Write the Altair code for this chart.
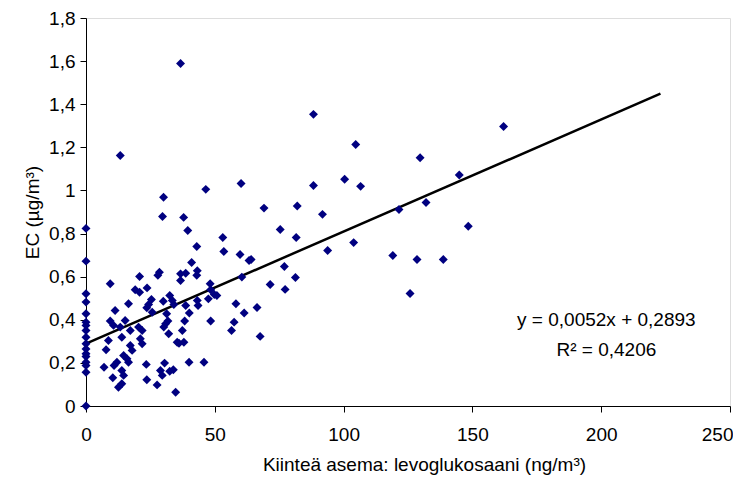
import altair as alt
import pandas as pd

# Scatter data (levoglucosan ng/m3 vs EC ug/m3)
x_zero_y = [0.824, 0.672, 0.521, 0.482, 0.428, 0.389, 0.374, 0.350, 0.319, 0.289,
            0.265, 0.242, 0.230, 0.203, 0.188, 0.157, 0.0]

xs = [36.7, 13.3, 88.3, 162.1, 104.7, 129.7, 100.4, 88.3, 106.6, 144.9,
      69.1, 82.0, 91.8, 121.5, 132.0, 75.4, 81.6, 64.1, 93.8, 103.9,
      148.4, 77.0, 71.5, 77.3, 81.3, 119.1, 128.5, 138.7, 125.8, 66.4,
      67.6, 30.1, 29.7, 37.9, 39.5, 46.5, 53.1, 60.2, 43.0, 53.5,
      59.8, 63.3, 41.0, 43.2, 28.5, 27.9, 20.8, 36.7, 38.7, 43.0,
      36.7, 9.4, 60.5, 19.1, 20.8, 23.7, 48.2, 48.4, 32.5, 25.4,
      24.3, 30.0, 16.5, 23.6, 33.5, 34.1, 38.7, 40.1, 43.2, 43.5,
      47.5, 50.8, 58.2, 61.4, 11.3, 25.7, 31.3, 31.8, 38.3, 48.4,
      57.5, 9.4, 10.7, 15.2, 13.3, 20.4, 21.8, 17.2, 30.2, 37.4,
      32.1, 56.5, 8.7, 13.9, 21.1, 21.8, 35.4, 38.0, 7.8, 17.2,
      14.6, 17.9, 15.9, 12.0, 16.5, 7.0, 10.9, 23.4, 30.5, 40.0,
      45.8, 13.9, 14.6, 10.4, 28.9, 32.5, 33.9, 29.6, 23.6, 27.6,
      13.9, 12.6, 34.8, 49.8, 30.9, 36.1]
ys = [1.589, 1.162, 1.353, 1.297, 1.213, 1.152, 1.052, 1.023, 1.019, 1.072,
      0.918, 0.928, 0.889, 0.912, 0.944, 0.819, 0.782, 0.680, 0.721, 0.758,
      0.834, 0.647, 0.564, 0.541, 0.596, 0.698, 0.680, 0.680, 0.522, 0.457,
      0.323, 0.968, 0.879, 0.875, 0.814, 1.005, 0.782, 1.032, 0.740, 0.717,
      0.703, 0.675, 0.666, 0.628, 0.621, 0.606, 0.601, 0.613, 0.616, 0.606,
      0.582, 0.567, 0.598, 0.539, 0.528, 0.548, 0.567, 0.539, 0.513, 0.494,
      0.471, 0.486, 0.474, 0.456, 0.490, 0.471, 0.466, 0.431, 0.490, 0.466,
      0.497, 0.513, 0.474, 0.431, 0.443, 0.435, 0.428, 0.394, 0.394, 0.394,
      0.389, 0.394, 0.374, 0.397, 0.366, 0.366, 0.350, 0.350, 0.366, 0.350,
      0.335, 0.350, 0.304, 0.319, 0.312, 0.289, 0.296, 0.296, 0.261, 0.281,
      0.234, 0.258, 0.219, 0.203, 0.203, 0.180, 0.188, 0.193, 0.199, 0.203,
      0.203, 0.165, 0.142, 0.131, 0.165, 0.161, 0.168, 0.142, 0.122, 0.098,
      0.103, 0.087, 0.064, 0.517, 0.381, 0.291]

all_x = [0.0] * len(x_zero_y) + xs
all_y = x_zero_y + ys

# Trend line y = 0.0052x + 0.2893
slope = 0.0052
intercept = 0.2893
line_x = [0.0, 223.0]
line_y = [intercept + slope * v for v in line_x]

eq_lines = ["y = 0,0052x + 0,2893", "R² = 0,4206"]
eq_x = [202.0, 202.0]
eq_y = [0.397, 0.258]

pts = pd.DataFrame({"x": all_x, "y": all_y})
trend = pd.DataFrame({"x": line_x, "y": line_y})
labels = pd.DataFrame({"x": eq_x, "y": eq_y, "t": eq_lines})

FONT = "Liberation Sans"
FS = 19
comma = "replace(format(datum.value, '.1~f'), '.', ',')"

xscale = alt.Scale(domain=[0, 250], nice=False, zero=True)
yscale = alt.Scale(domain=[0, 1.8], nice=False, zero=True)

xaxis = alt.Axis(values=[0, 50, 100, 150, 200, 250], title="Kiinteä asema: levoglukosaani (ng/m³)",
                 grid=False, domainColor="black", tickColor="black", tickSize=6,
                 labelAlign={"condition": {"test": "datum.value == 250", "value": "right"}, "value": "center"},
                 labelOffset={"condition": {"test": "datum.value == 250", "value": 3}, "value": 0},
                 labelFont=FONT, labelFontSize=FS, labelColor="black", labelPadding=13,
                 titleFont=FONT, titleFontSize=FS, titleFontWeight="normal", titleColor="black",
                 titlePadding=11, titleX=338)
yaxis = alt.Axis(values=[0, 0.2, 0.4, 0.6, 0.8, 1.0, 1.2, 1.4, 1.6, 1.8], title="EC (µg/m³)",
                 grid=False, domainColor="black", tickColor="black", tickSize=6,
                 labelExpr=comma,
                 labelFont=FONT, labelFontSize=FS, labelColor="black", labelPadding=5,
                 titleFont=FONT, titleFontSize=FS, titleFontWeight="normal", titleColor="black",
                 titlePadding=6)

points = alt.Chart(pts).mark_point(shape="diamond", filled=True, size=80,
                                     color="#000080", opacity=1).encode(
    x=alt.X("x:Q", scale=xscale, axis=xaxis),
    y=alt.Y("y:Q", scale=yscale, axis=yaxis),
)

line = alt.Chart(trend).mark_line(color="black", strokeWidth=2.5).encode(
    x=alt.X("x:Q", scale=xscale),
    y=alt.Y("y:Q", scale=yscale),
)

text = alt.Chart(labels).mark_text(font=FONT, fontSize=FS, color="black", align="center").encode(
    x=alt.X("x:Q", scale=xscale),
    y=alt.Y("y:Q", scale=yscale),
    text="t:N",
)

chart = alt.layer(line, points, text).properties(
    width=644, height=388,
    autosize=alt.AutoSizeParams(type="none"),
    padding={"left": 78, "top": 10, "right": 3, "bottom": 70},
).configure_view(stroke=None).configure(background="white")

chart.save("out.html", embed_options={"renderer": "svg", "actions": False})
